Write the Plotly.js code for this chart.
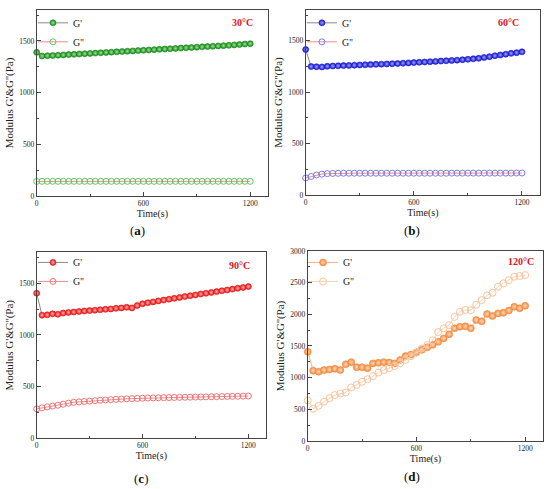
<!DOCTYPE html>
<html>
<head>
<meta charset="utf-8">
<script src="https://cdn.plot.ly/plotly-3.0.1.min.js"></script>
<style>html,body{margin:0;padding:0;background:#fff;}#chart{width:550px;height:489px;}</style>
</head>
<body>
<div id="chart"></div>
<script>
// ---------- DATA ----------
const timeS = [0,30,60,90,120,150,180,210,240,270,300,330,360,390,420,450,480,510,540,570,600,630,660,690,720,750,780,810,840,870,900,930,960,990,1020,1050,1080,1110,1140,1170,1200];

const xTicks = [0, 600, 1200];
const yTicksLow = [0, 500, 1000, 1500];
const yTicksHigh = [0, 500, 1000, 1500, 2000, 2500, 3000];

const seriesNames = ["G'", "G''"];
const panelLabels = ["a", "b", "c", "d"];
const tempLabels = ["30°C", "60°C", "90°C", "120°C"];

// (a) 30°C
const gStorage30 = [1390,1355,1357,1359,1362,1365,1368,1371,1374,1377,1380,1383,1386,1389,1392,1395,1398,1401,1404,1407,1410,1413,1416,1419,1422,1425,1428,1431,1434,1437,1440,1443,1446,1449,1452,1455,1458,1462,1466,1470,1474];
const gLoss30 = [141,142,142,142,142,142,142,142,142,142,142,142,142,142,142,142,142,142,142,142,142,142,142,142,142,142,142,142,142,142,142,142,142,142,142,142,142,142,142,142,142];

// (b) 60°C
const gStorage60 = [1415,1250,1248,1246,1252,1255,1257,1259,1261,1263,1265,1267,1269,1271,1273,1275,1277,1279,1282,1285,1288,1291,1294,1297,1300,1303,1306,1309,1312,1316,1320,1325,1330,1338,1346,1355,1362,1370,1378,1385,1393];
const gLoss60 = [166,180,195,203,208,210,211,212,212,212,212,212,212,212,212,212,212,212,212,212,212,212,212,212,212,212,212,213,213,213,213,213,213,213,213,213,213,213,213,214,214];

// (c) 90°C
const gStorage90 = [1405,1192,1195,1205,1200,1212,1218,1222,1228,1232,1236,1240,1244,1248,1252,1258,1262,1268,1262,1285,1302,1312,1320,1330,1338,1346,1355,1363,1372,1380,1388,1396,1404,1412,1420,1428,1436,1444,1452,1460,1468];
const gLoss90 = [285,295,305,312,320,330,340,348,352,356,360,364,368,371,374,377,380,382,384,386,388,390,391,392,393,394,395,396,397,398,399,400,401,402,403,404,405,406,407,408,409];

// (d) 120°C
const gStorage120 = [1410,1110,1095,1120,1130,1140,1120,1210,1245,1165,1165,1150,1225,1235,1245,1240,1225,1280,1340,1365,1400,1440,1480,1520,1565,1620,1685,1780,1805,1810,1780,1910,1890,2005,1975,2015,2025,2060,2120,2095,2135];
const gLoss120 = [640,510,555,620,675,725,750,765,845,885,935,975,1025,1080,1120,1150,1185,1225,1280,1340,1395,1460,1515,1590,1720,1780,1830,1960,2040,2070,2065,2150,2225,2300,2340,2435,2490,2540,2595,2605,2620];

// ---------- STYLE ----------
const serif = "Liberation Serif, Times New Roman, serif";
const panels = [
  {sto: gStorage30, los: gLoss30, c1: "#1b8a1b", c1c: "#9be29b", c1l: "#8a8a8a", c2: "#5ec85e", c2l: "#f08a8a", xd: [0.0667, 0.4873], yd: [0.5992, 0.9796], yr: [0, 1800], yt: yTicksLow, size: 6},
  {sto: gStorage60, los: gLoss60, c1: "#1818cc", c1c: "#a0a0ff", c1l: "#8a8a8a", c2: "#7c7cea", c2l: "#f08a8a", xd: [0.5558, 0.9818], yd: [0.6012, 0.9796], yr: [0, 1800], yt: yTicksLow, size: 6},
  {sto: gStorage90, los: gLoss90, c1: "#e51515", c1c: "#ffb0b0", c1l: "#8a8a8a", c2: "#f07474", c2l: "#f08a8a", xd: [0.0667, 0.4836], yd: [0.1037, 0.4840], yr: [0, 1800], yt: yTicksLow, size: 6},
  {sto: gStorage120, los: gLoss120, c1: "#f08c42", c1c: "#ffd8b8", c1l: "#f6b184", c2: "#f8c39c", c2l: "#fad2b4", xd: [0.5595, 0.9878], yd: [0.0982, 0.4867], yr: [0, 3000], yt: yTicksHigh, size: 7}
];

const legendPos = [
  {x: 0.060, y: 0.983},
  {x: 0.549, y: 0.983},
  {x: 0.060, y: 0.493},
  {x: 0.551, y: 0.493}
];
const tempPos = [[242, 22.7], [508, 22.7], [239, 265], [521, 261]];
const labelPos = [[137, 230], [412, 230], [141, 478], [412, 476]];

const W = 550, H = 489;
const data = [];
const layout = {
  width: W, height: H,
  margin: {l: 0, r: 0, t: 0, b: 0},
  paper_bgcolor: "#fff", plot_bgcolor: "#fff",
  showlegend: true,
  font: {family: serif, color: "#222"},
  annotations: []
};

panels.forEach((p, i) => {
  const n = i === 0 ? "" : String(i + 1);
  const xa = "x" + n, ya = "y" + n;
  const lg = "legend" + n;
  data.push({
    x: timeS, y: p.sto, xaxis: xa, yaxis: ya, legend: lg,
    name: seriesNames[0], type: "scatter", mode: "lines+markers",
    line: {color: p.c1l, width: 1},
    marker: {symbol: "circle", size: p.size, color: p.c1,
             gradient: {type: "radial", color: p.c1c},
             line: {color: p.c1, width: 0.6}},
    cliponaxis: false
  });
  data.push({
    x: timeS, y: p.los, xaxis: xa, yaxis: ya, legend: lg,
    name: seriesNames[1], type: "scatter", mode: "lines+markers",
    line: {color: p.c2l, width: 1},
    marker: {symbol: "circle-open", size: p.size, color: p.c2, line: {color: p.c2, width: 1}},
    cliponaxis: false
  });
  const axCommon = {
    showline: true, mirror: true, linecolor: "#444", linewidth: 1,
    showgrid: false, zeroline: false,
    ticks: "inside", ticklen: 4, tickwidth: 1, tickcolor: "#444",
    tickfont: {family: serif, size: 7.5, color: "#222"},
    fixedrange: true
  };
  layout["xaxis" + n] = Object.assign({}, axCommon, {
    domain: p.xd, range: [0, 1300], anchor: ya,
    tickmode: "array", tickvals: xTicks, ticktext: xTicks.map(String),
    minor: {ticks: "inside", ticklen: 2, tickcolor: "#444", dtick: 300, tick0: 0, showgrid: false},
    title: {text: "Time(s)", font: {family: serif, size: 10, color: "#222"}, standoff: 2}
  });
  layout["yaxis" + n] = Object.assign({}, axCommon, {
    domain: p.yd, range: p.yr, anchor: xa,
    tickmode: "array", tickvals: p.yt, ticktext: p.yt.map(String),
    minor: {ticks: "inside", ticklen: 2, tickcolor: "#444", dtick: 250, tick0: 0, showgrid: false},
    title: {text: "Modulus G'&G''(Pa)", font: {family: serif, size: 11, color: "#222"}, standoff: 3}
  });
  layout[lg] = {
    x: legendPos[i].x, y: legendPos[i].y, xanchor: "left", yanchor: "top",
    bgcolor: "rgba(0,0,0,0)", borderwidth: 0,
    font: {family: serif, size: 10, color: "#222"},
    itemwidth: 30, tracegroupgap: 0
  };
  layout.annotations.push({
    xref: "paper", yref: "paper", x: tempPos[i][0] / W, y: 1 - tempPos[i][1] / H,
    xanchor: "center", yanchor: "middle", showarrow: false,
    text: "<b>" + tempLabels[i] + "</b>", font: {family: serif, size: 10, color: "#e0141e"}
  });
  layout.annotations.push({
    xref: "paper", yref: "paper", x: labelPos[i][0] / W, y: 1 - labelPos[i][1] / H,
    xanchor: "center", yanchor: "middle", showarrow: false,
    text: "(<b>" + panelLabels[i] + "</b>)", font: {family: serif, size: 13, color: "#111"}
  });
});

Plotly.newPlot("chart", data, layout, {displayModeBar: false, staticPlot: true});
</script>
</body>
</html>
